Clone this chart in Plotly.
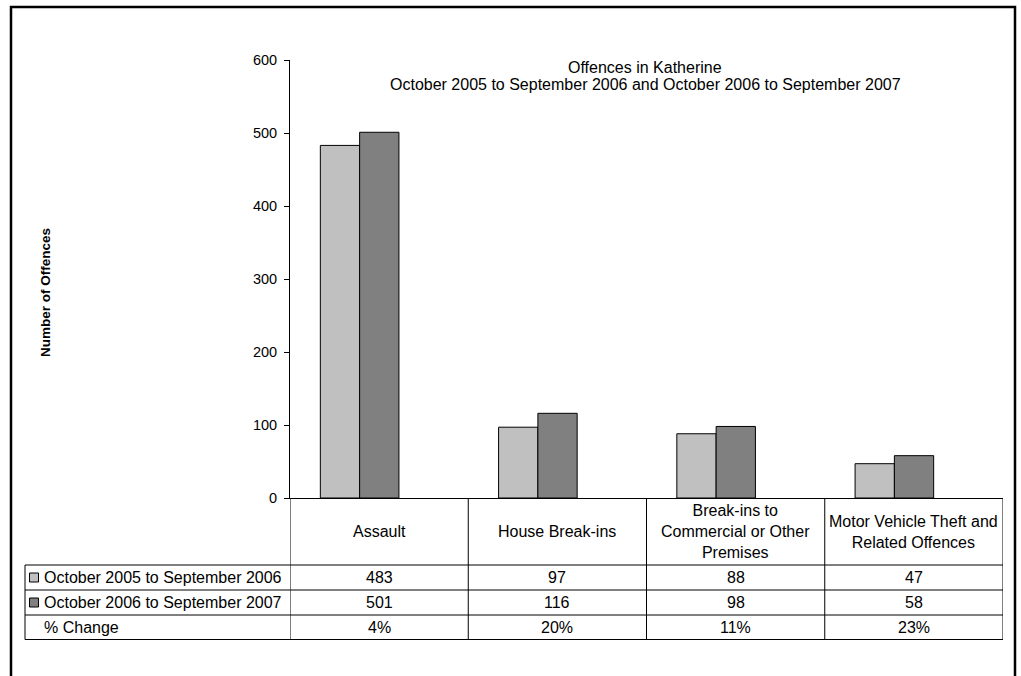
import plotly.graph_objects as go

# ---------------- data ----------------
categories = ["Assault", "House Break-ins",
              "Break-ins to Commercial or Other Premises",
              "Motor Vehicle Theft and Related Offences"]
header_labels = ["Assault", "House Break-ins",
                 "Break-ins to<br>Commercial or Other<br>Premises",
                 "Motor Vehicle Theft and<br>Related Offences"]
series_names = ["October 2005 to September 2006", "October 2006 to September 2007"]
values_2006 = [483, 97, 88, 47]
values_2007 = [501, 116, 98, 58]
pct_change = ["4%", "20%", "11%", "23%"]
pct_label = "% Change"
title_line1 = "Offences in Katherine"
title_line2 = "October 2005 to September 2006 and October 2006 to September 2007"
y_title = "Number of Offences"
y_ticks = [0, 100, 200, 300, 400, 500, 600]

colors = ["#C0C0C0", "#808080"]
FONT = "Arial, Liberation Sans, sans-serif"

# ---------------- layout geometry (pixels) ----------------
W, H = 1021, 676
L, R, T, B = 290, 18, 60, 178
PW = W - L - R
PH = H - T - B
y0_px = T + PH  # pixel of y=0


def px_x(p):
    return (p - L) / PW


def px_y(p):
    return (y0_px - p) / PH


unit_px = PW / len(categories)
bar_w = 39.3 / unit_px
group_shift = -19.5 / unit_px

fig = go.Figure()
series = [values_2006, values_2007]
for i, (name, vals) in enumerate(zip(series_names, series)):
    fig.add_trace(go.Bar(
        x=categories, y=vals, name=name,
        width=bar_w,
        offset=group_shift - bar_w + i * bar_w,
        marker=dict(color=colors[i], line=dict(color="black", width=1)),
        showlegend=False,
        hoverinfo="x+y+name",
    ))

shapes = []
annotations = []

# table rows (pixel y)
header_bottom = 565
row_edges = [565, 590, 615, 639.5]
table_left = 25
table_right = L + PW

# horizontal lines
for ry in row_edges:
    shapes.append(dict(type="line", xref="paper", yref="paper",
                       x0=px_x(table_left), x1=px_x(table_right),
                       y0=px_y(ry), y1=px_y(ry),
                       line=dict(color="black", width=1)))
# vertical lines
shapes.append(dict(type="line", xref="paper", yref="paper",
                   x0=px_x(table_left), x1=px_x(table_left),
                   y0=px_y(row_edges[0]), y1=px_y(row_edges[-1]),
                   line=dict(color="black", width=1)))
for k in range(len(categories) + 1):
    xv = k - 0.5
    shapes.append(dict(type="line", xref="x", yref="paper",
                       x0=xv, x1=xv, y0=0, y1=px_y(row_edges[-1]),
                       line=dict(color="black", width=1)))

# header text
for cat, lab in zip(categories, header_labels):
    annotations.append(dict(x=cat, xref="x", yref="paper",
                            y=px_y((y0_px + header_bottom) / 2),
                            text=lab, showarrow=False,
                            xanchor="center", yanchor="middle",
                            font=dict(family=FONT, size=16, color="black")))

# data rows
row_values = [[str(v) for v in values_2006], [str(v) for v in values_2007], pct_change]
row_labels = series_names + [pct_label]
for r in range(3):
    cy = (row_edges[r] + row_edges[r + 1]) / 2
    for cat, txt in zip(categories, row_values[r]):
        annotations.append(dict(x=cat, xref="x", yref="paper", y=px_y(cy),
                                text=txt, showarrow=False,
                                xanchor="center", yanchor="middle",
                                font=dict(family=FONT, size=16, color="black")))
    annotations.append(dict(x=px_x(42), xref="paper", yref="paper", y=px_y(cy),
                            text=row_labels[r], showarrow=False,
                            xanchor="left", yanchor="middle",
                            font=dict(family=FONT, size=16, color="black")))
    if r < 2:
        shapes.append(dict(type="rect", xref="paper", yref="paper",
                           x0=px_x(29.5), x1=px_x(38.5),
                           y0=px_y(cy - 4.5), y1=px_y(cy + 4.5),
                           fillcolor=colors[r],
                           line=dict(color="black", width=1)))

# titles
annotations.append(dict(x=px_x(645), y=px_y(67), xref="paper", yref="paper",
                        text=title_line1, showarrow=False,
                        xanchor="center", yanchor="middle",
                        font=dict(family=FONT, size=16, color="black")))
annotations.append(dict(x=px_x(645), y=px_y(85), xref="paper", yref="paper",
                        text=title_line2, showarrow=False,
                        xanchor="center", yanchor="middle",
                        font=dict(family=FONT, size=16, color="black")))
annotations.append(dict(x=px_x(45), y=px_y(293), xref="paper", yref="paper",
                        text="<b>" + y_title + "</b>", showarrow=False,
                        textangle=-90, xanchor="center", yanchor="middle",
                        font=dict(family=FONT, size=13.5, color="black")))

# outer border
shapes.append(dict(type="rect", xref="paper", yref="paper",
                   x0=px_x(11), x1=px_x(1015), y0=px_y(7), y1=px_y(700),
                   line=dict(color="black", width=2.5), fillcolor="rgba(0,0,0,0)"))

fig.update_layout(
    width=W, height=H,
    margin=dict(l=L, r=R, t=T, b=B, pad=0),
    paper_bgcolor="white", plot_bgcolor="white",
    barmode="overlay",
    shapes=shapes, annotations=annotations,
    xaxis=dict(type="category", range=[-0.5, len(categories) - 0.5],
               showticklabels=False, ticks="", showgrid=False,
               showline=True, linecolor="black", linewidth=1,
               zeroline=False, fixedrange=True),
    yaxis=dict(range=[0, 600], tickvals=y_ticks, ticks="outside", ticklen=5,
               tickwidth=1, tickcolor="black", showgrid=False, zeroline=False,
               showline=True, linecolor="black", linewidth=1,
               tickfont=dict(family=FONT, size=14.5, color="black"),
               ticklabelstandoff=4, fixedrange=True),
    font=dict(family=FONT, color="black"),
)

fig.write_html(
    "out.html",
    config={"displayModeBar": False},
    post_script="document.body.style.margin='0';document.body.style.overflow='hidden';",
)
